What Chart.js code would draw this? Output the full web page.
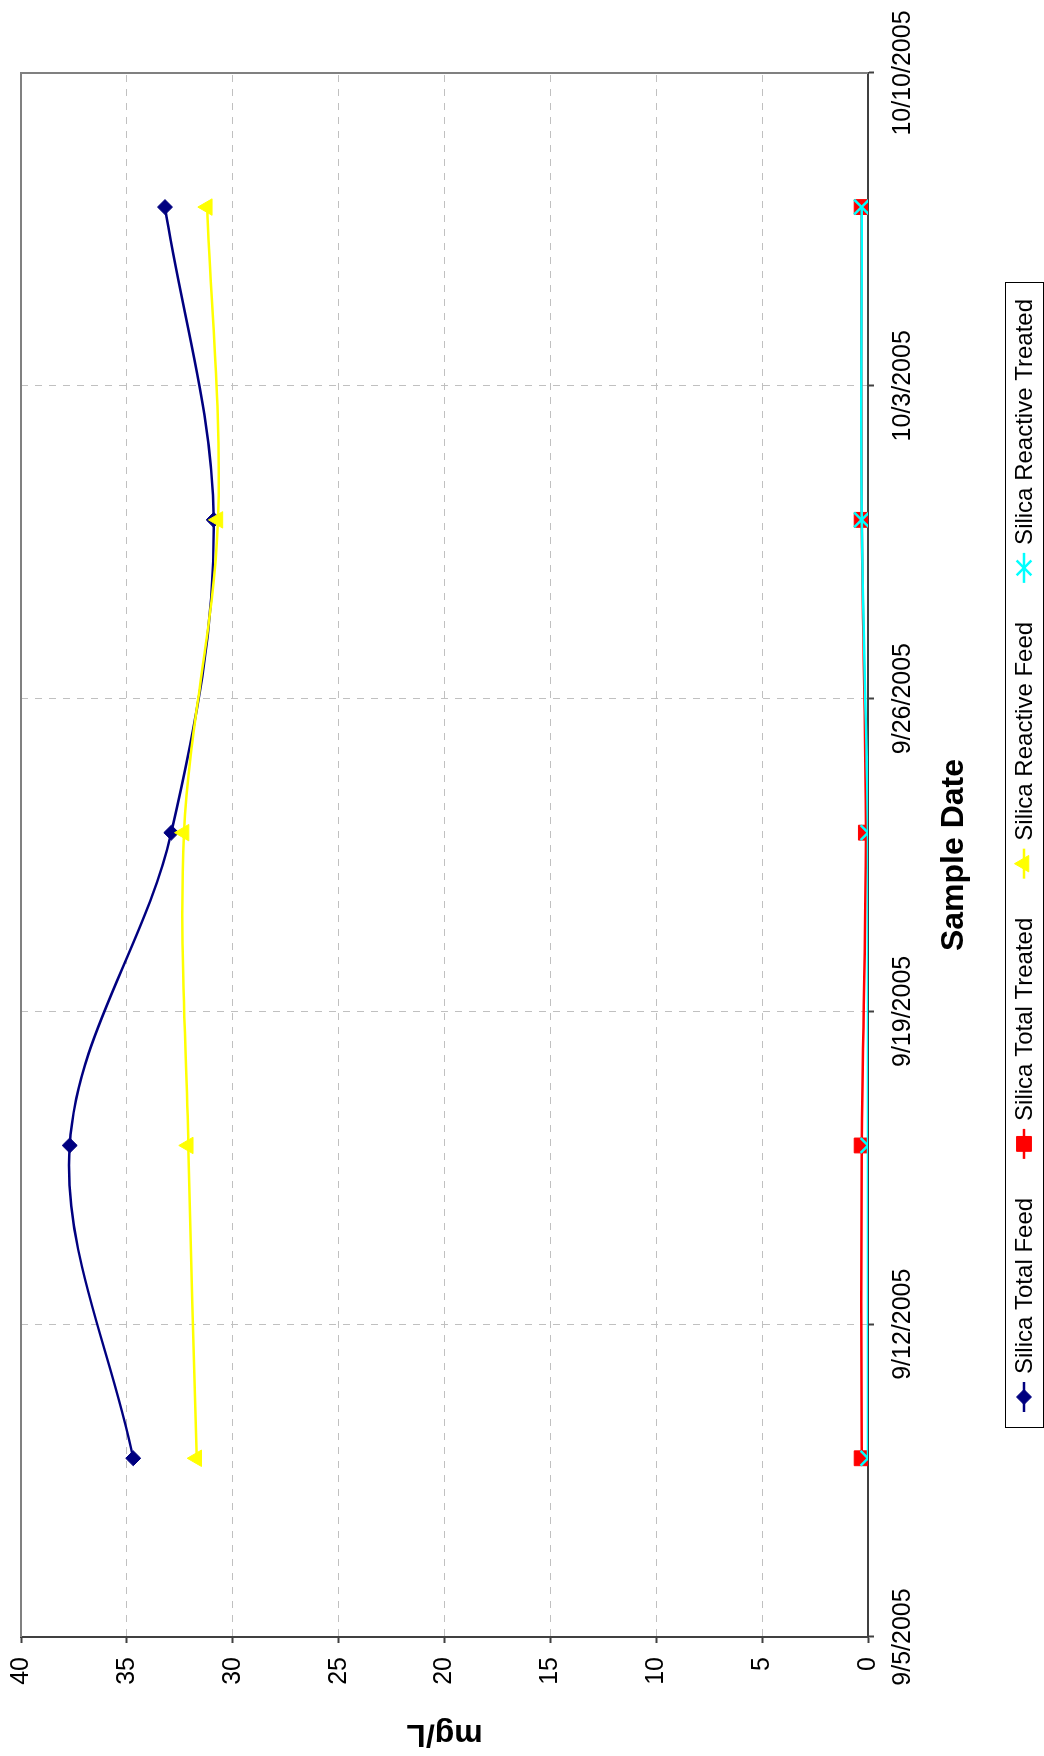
<!DOCTYPE html>
<html>
<head>
<meta charset="utf-8">
<title>Silica</title>
<script src="https://cdn.jsdelivr.net/npm/chart.js@4.4.1/dist/chart.umd.min.js"></script>
<style>
  html, body { margin: 0; padding: 0; background: #fff; }
  #page { position: relative; width: 1044px; height: 1756px; overflow: hidden; }
  /* the chart is laid out landscape and turned a quarter turn to the left */
  #wrap { position: absolute; left: 0; top: 0; width: 1756px; height: 1044px;
          transform-origin: 0 0; transform: translateY(1756px) rotate(-90deg); }
</style>
</head>
<body>
<div id="page"><div id="wrap"><canvas id="silicaChart" width="1756" height="1044"></canvas></div></div>
<script>
// Données
const sampleDates = ['9/9/2005', '9/16/2005', '9/23/2005', '9/30/2005', '10/7/2005'];
const dateTicks = ['9/5/2005', '9/12/2005', '9/19/2005', '9/26/2005', '10/3/2005', '10/10/2005'];
const seriesNames = ['Silica Total Feed', 'Silica Total Treated', 'Silica Reactive Feed', 'Silica Reactive Treated'];
const totalFeed = [34.7, 37.7, 32.9, 30.9, 33.2];
const totalTreated = [0.3, 0.3, 0.1, 0.3, 0.3];
const reactiveFeed = [31.7, 32.1, 32.3, 30.7, 31.2];
const reactiveTreated = [0.0, 0.0, 0.0, 0.3, 0.3];

// nombre de jours depuis le premier repère de l'axe
function dayNumber(s) {
    const [m, d, y] = s.split('/').map(Number);
    return Date.UTC(y, m - 1, d) / 86400000;
}
const day0 = dayNumber(dateTicks[0]);
const toPoints = (values) => values.map((v, i) => ({ x: dayNumber(sampleDates[i]) - day0, y: v }));

const family = '"Liberation Sans", Arial, sans-serif';
const tickFont = { family: family, size: 25 };
const titleFont = { family: family, size: 32, weight: 'bold' };

Chart.defaults.color = '#000';

// cadre gris en haut et à droite de la zone de tracé
const plotFrame = {
    id: 'plotFrame',
    beforeDatasetsDraw(chart) {
        const { ctx, chartArea: a } = chart;
        ctx.save();
        ctx.strokeStyle = '#808080';
        ctx.lineWidth = 2;
        ctx.beginPath();
        ctx.moveTo(a.left, a.top);
        ctx.lineTo(a.right, a.top);
        ctx.lineTo(a.right, a.bottom);
        ctx.stroke();
        ctx.restore();
    }
};

// légende façon tableur : trait + marqueur + libellé, dans un cadre
const boxLegend = {
    id: 'boxLegend',
    afterDraw(chart) {
        const ctx = chart.ctx;
        const box = { left: 328, top: 1005, width: 1145, height: 38 };
        const pad = 16, lineLen = 30, textGap = 8;
        ctx.save();
        ctx.fillStyle = '#fff';
        ctx.fillRect(box.left, box.top, box.width, box.height);
        ctx.strokeStyle = '#000';
        ctx.lineWidth = 1;
        ctx.strokeRect(box.left + 0.5, box.top + 0.5, box.width, box.height);

        ctx.font = '24px ' + family;
        const widths = chart.data.datasets.map(ds => ctx.measureText(ds.label).width);
        const used = widths.reduce((s, w) => s + w + lineLen + textGap, 0);
        const gap = (box.width - 2 * pad - used) / (widths.length - 1);
        const cy = box.top + box.height / 2;
        let x = box.left + pad;
        chart.data.datasets.forEach((ds, i) => {
            ctx.strokeStyle = ds.borderColor;
            ctx.lineWidth = ds.borderWidth;
            ctx.beginPath();
            ctx.moveTo(x, cy);
            ctx.lineTo(x + lineLen, cy);
            ctx.stroke();
            ctx.fillStyle = ds.pointBackgroundColor;
            ctx.strokeStyle = ds.pointBorderColor;
            ctx.lineWidth = ds.pointBorderWidth;
            Chart.helpers.drawPoint(ctx, {
                pointStyle: ds.pointStyle, rotation: 0,
                radius: ds.pointRadius, borderWidth: ds.pointBorderWidth
            }, x + lineLen / 2, cy);
            ctx.fillStyle = '#000';
            ctx.textBaseline = 'middle';
            ctx.textAlign = 'left';
            ctx.fillText(ds.label, x + lineLen + textGap, cy + 1);
            x += lineLen + textGap + widths[i] + gap;
        });
        ctx.restore();
    }
};

function series(label, values, color, style, radius, pointBorder, order) {
    return {
        label: label,
        data: toPoints(values),
        borderColor: color,
        backgroundColor: color,
        borderWidth: 2.5,
        pointStyle: style,
        pointRadius: radius,
        pointBackgroundColor: color,
        pointBorderColor: color,
        pointBorderWidth: pointBorder,
        tension: 0.35,
        order: order
    };
}

const ctx = document.getElementById('silicaChart').getContext('2d');
new Chart(ctx, {
    type: 'line',
    data: {
        datasets: [
            series(seriesNames[0], totalFeed, '#000080', 'rectRot', 7.5, 1, 3),
            series(seriesNames[1], totalTreated, '#ff0000', 'rect', 10.5, 1, 2),
            series(seriesNames[2], reactiveFeed, '#ffff00', 'triangle', 9.5, 1, 1),
            series(seriesNames[3], reactiveTreated, '#00ffff', 'crossRot', 10.5, 2.5, 0)
        ]
    },
    options: {
        responsive: false,
        animation: false,
        events: [],
        layout: { padding: { left: 0, top: 21, right: 73, bottom: 46 } },
        plugins: {
            legend: { display: false },
            tooltip: { enabled: false }
        },
        scales: {
            x: {
                type: 'linear',
                min: 0,
                max: 35,
                afterFit(scale) {
                    scale.height = 130;
                    scale.paddingLeft = 0;
                    scale.paddingRight = 0;
                },
                ticks: {
                    stepSize: 7,
                    maxRotation: 0,
                    autoSkip: false,
                    padding: 14,
                    font: tickFont,
                    callback: (v) => dateTicks[Math.round(v / 7)]
                },
                grid: { color: '#c0c0c0', lineWidth: 1, tickColor: '#404040', tickLength: 6, tickWidth: 2 },
                border: { color: '#404040', width: 2, dash: [7, 7] },
                title: { display: true, text: 'Sample Date', font: titleFont, padding: { top: 0, bottom: 25 } }
            },
            y: {
                min: 0,
                max: 40,
                afterFit(scale) {
                    scale.width = 119;
                    scale.paddingTop = 0;
                    scale.paddingBottom = 0;
                },
                ticks: { stepSize: 5, padding: 14, font: tickFont },
                grid: { color: '#c0c0c0', lineWidth: 1, tickColor: '#404040', tickLength: 6, tickWidth: 2 },
                border: { color: '#404040', width: 2, dash: [7, 7] },
                title: { display: true, text: 'mg/L', font: titleFont, padding: { top: 3, bottom: 0 } }
            }
        }
    },
    plugins: [plotFrame, boxLegend]
});
</script>
</body>
</html>
